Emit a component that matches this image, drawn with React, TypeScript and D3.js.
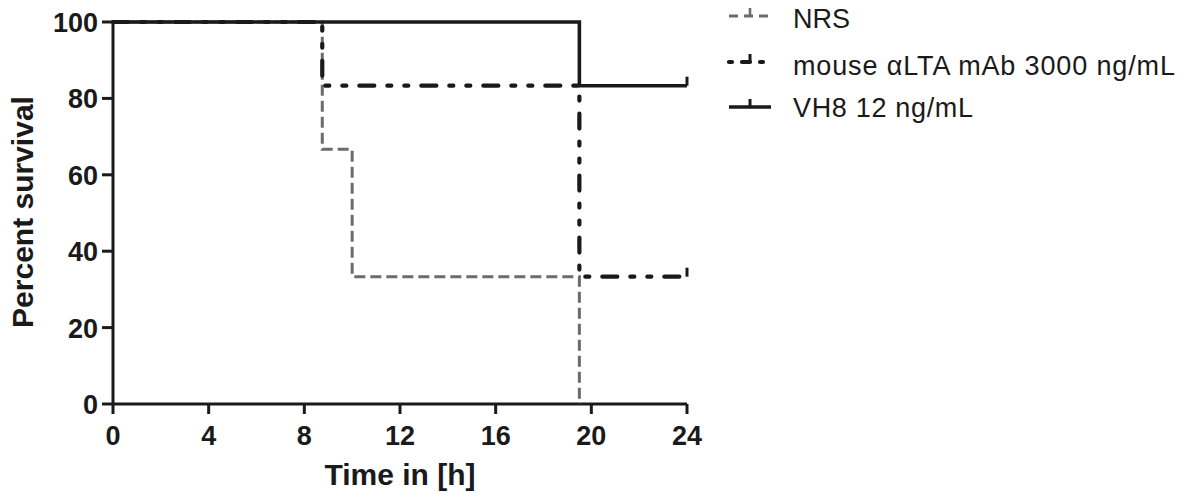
import React from "react";
import * as d3 from "d3";

// survival data
const nrsTimes = [0, 8.75, 10, 19.5];
const nrsValues = [100, 66.67, 33.33, 0];
const mouseTimes = [0, 8.75, 19.5, 24];
const mouseValues = [100, 83.33, 33.33, 33.33];
const vh8Times = [0, 19.5, 24];
const vh8Values = [100, 83.33, 83.33];

const xTicks = [0, 4, 8, 12, 16, 20, 24];
const yTicks = [0, 20, 40, 60, 80, 100];
const seriesNames = ["NRS", "mouse \u03b1LTA mAb 3000 ng/mL", "VH8 12 ng/mL"];

const W = 1178;
const H = 492;
const FONT = "'Liberation Sans', Arial, sans-serif";

type Style = { stroke: string; width: number; dash: string; cap: "butt" | "round" };

const styles: Style[] = [
  { stroke: "#6b6b6b", width: 3, dash: "11 5", cap: "butt" },
  { stroke: "#1a1a1a", width: 4.2, dash: "15 13 4 13 4 13", cap: "round" },
  { stroke: "#1a1a1a", width: 3.6, dash: "", cap: "butt" },
];

export default function App() {
  const x = d3.scaleLinear().domain([0, 24]).range([113, 687]);
  const y = d3.scaleLinear().domain([0, 100]).range([404, 22]);

  const line = d3
    .line<[number, number]>()
    .x(d => x(d[0]))
    .y(d => y(d[1]))
    .curve(d3.curveStepAfter);

  const series = [
    { t: nrsTimes, v: nrsValues, censor: false },
    { t: mouseTimes, v: mouseValues, censor: true },
    { t: vh8Times, v: vh8Values, censor: true },
  ];

  const legendY = [16, 62, 107];
  const textY = [28, 75, 117];
  const textLen = [57, 382, 180];

  return (
    <div style={{ position: "absolute", left: 0, top: 0 }}>
      <svg width={W} height={H} style={{ display: "block", background: "#fff" }}>
        {/* axes */}
        <g stroke="#1a1a1a" strokeWidth={3} fill="none">
          <line x1={x(0)} x2={x(24)} y1={y(0)} y2={y(0)} />
          <line x1={x(0)} x2={x(0)} y1={y(0)} y2={y(100)} />
          {xTicks.map(t => (
            <line key={"xt" + t} x1={x(t)} x2={x(t)} y1={y(0)} y2={y(0) + 10} />
          ))}
          {yTicks.map(t => (
            <line key={"yt" + t} x1={x(0) - 11} x2={x(0)} y1={y(t)} y2={y(t)} />
          ))}
        </g>
        <g fontFamily={FONT} fontWeight="bold" fontSize={27} fill="#1a1a1a">
          {xTicks.map(t => (
            <text key={"xl" + t} x={x(t)} y={445} textAnchor="middle">{t}</text>
          ))}
          {yTicks.map(t => (
            <text key={"yl" + t} x={98} y={y(t) + 10} textAnchor="end">{t}</text>
          ))}
        </g>
        <text
          x={400}
          y={485}
          textAnchor="middle"
          fontFamily={FONT}
          fontWeight="bold"
          fontSize={30}
          fill="#1a1a1a"
        >
          Time in [h]
        </text>
        <text
          transform={`translate(33,${212}) rotate(-90)`}
          textAnchor="middle"
          fontFamily={FONT}
          fontWeight="bold"
          fontSize={30}
          fill="#1a1a1a"
        >
          Percent survival
        </text>

        {/* survival curves */}
        {series.map((s, i) => {
          const pts = s.t.map((t, j) => [t, s.v[j]] as [number, number]);
          const st = styles[i];
          const last = pts[pts.length - 1];
          return (
            <g key={"s" + i}>
              <path
                d={line(pts) || ""}
                fill="none"
                stroke={st.stroke}
                strokeWidth={st.width}
                strokeDasharray={st.dash || undefined}
                strokeLinecap={st.cap}
              />
              {s.censor && (
                <line
                  x1={x(last[0])}
                  x2={x(last[0])}
                  y1={y(last[1])}
                  y2={y(last[1]) - 9}
                  stroke={st.stroke}
                  strokeWidth={3}
                />
              )}
            </g>
          );
        })}

        {/* legend */}
        {seriesNames.map((name, i) => {
          const st = styles[i];
          return (
            <g key={"lg" + i}>
              <line
                x1={729}
                x2={771}
                y1={legendY[i]}
                y2={legendY[i]}
                stroke={st.stroke}
                strokeWidth={st.width}
                strokeDasharray={i === 0 ? "9 6" : i === 1 ? "3 10 8 10" : undefined}
                strokeLinecap={st.cap}
              />
              <line
                x1={750}
                x2={750}
                y1={legendY[i]}
                y2={legendY[i] - 8}
                stroke={st.stroke}
                strokeWidth={i === 0 ? 2.6 : 3}
              />
              <text
                x={793}
                y={textY[i]}
                fontFamily={FONT}
                fontSize={27}
                fill="#1a1a1a"
                textLength={textLen[i]}
                lengthAdjust="spacing"
              >
                {name}
              </text>
            </g>
          );
        })}
      </svg>
    </div>
  );
}
